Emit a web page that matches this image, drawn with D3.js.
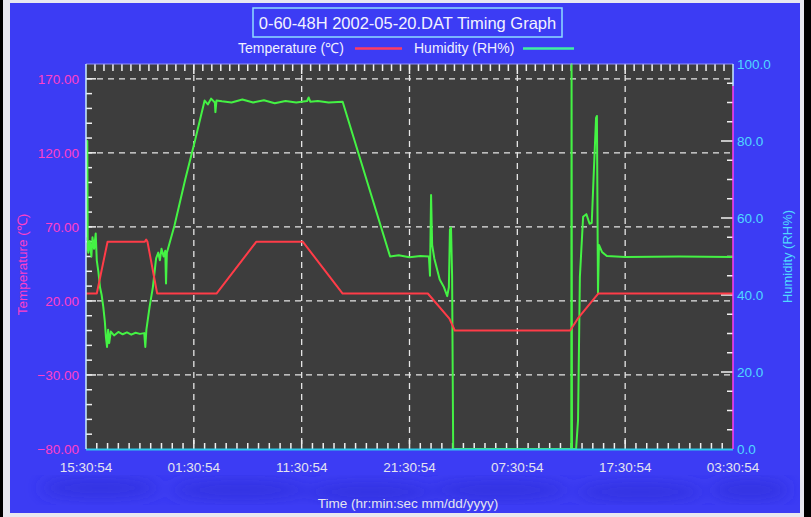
<!DOCTYPE html>
<html>
<head>
<meta charset="utf-8">
<script src="https://cdn.jsdelivr.net/npm/d3@7/dist/d3.min.js"></script>
<style>
  html, body { margin: 0; padding: 0; background: #000; }
  svg { display: block; font-family: "Liberation Sans", Arial, sans-serif; }
</style>
</head>
<body>
<svg id="chart" width="811" height="517"></svg>
<script>
// ---------- DATA ----------
const titleText = "0-60-48H 2002-05-20.DAT Timing Graph";
const tempLabel = "Temperature (\u2103)";
const humLabel = "Humidity (RH%)";
const xTitle = "Time (hr:min:sec mm/dd/yyyy)";

// hours since start (total 60 h)
const timeTickHours = [0, 10, 20, 30, 40, 50, 60];
const timeTickLabels = ["15:30:54", "01:30:54", "11:30:54", "21:30:54", "07:30:54", "17:30:54", "03:30:54"];

const tempTicks = [-80, -30, 20, 70, 120, 170];
const humTicks = [0, 20, 40, 60, 80, 100];

// Temperature series (°C)
const tempTime  = [0, 1.0, 2.0, 5.45, 5.58, 5.7, 6.6, 12.1, 15.8, 20.1, 23.8, 31.7, 33.7, 34.2, 44.9, 45.6, 47.5, 60];
const tempValue = [25, 25, 60, 60, 61.5, 60, 25, 25, 60, 60, 25, 25, 8, 0, 0, 8, 25, 25];

// Humidity series (RH%)
const humTime = [0, 0.12, 0.16, 0.22, 0.35, 0.5, 0.6, 0.75, 0.9, 1.0, 1.15, 1.3, 1.45, 1.6, 1.75, 1.85, 1.95, 2.05, 2.15, 2.3,
  2.6, 3.0, 3.4, 3.8, 4.2, 4.6, 5.0, 5.4, 5.5, 5.6, 5.9, 6.2, 6.5, 6.7, 6.85, 7.0, 7.2, 7.35, 7.42, 7.5,
  8.2, 9.2, 10.1, 11.0, 11.3, 11.6, 11.95, 12.0, 12.1, 12.6, 13.5, 14.5, 15.5, 16.5, 17.5, 18.5, 19.5, 20.5, 20.65, 20.8,
  21.5, 22.5, 23.8, 28.2, 29, 30, 31, 31.8, 31.9, 32.0, 32.1, 32.3, 32.8, 33.2, 33.5, 33.65, 33.75, 33.85, 33.95, 34.05,
  45.0, 45.03, 45.07, 45.45, 45.63, 45.8, 46.1, 46.4, 46.7, 46.9, 47.1, 47.3, 47.38, 47.48, 47.57, 47.85, 48.3, 50, 55, 60];
const humValue = [55, 80, 52, 51, 54, 50, 55, 52, 56, 49, 46, 42, 40, 37, 33, 29, 26.5, 31, 27.5, 30.5,
  29.5, 30.4, 29.8, 30.3, 29.7, 30.2, 29.9, 30.1, 26.5, 31, 37, 42, 49.5, 51, 49, 52, 50, 51.5, 43, 51,
  58, 70, 80, 90.5, 89.5, 91, 90, 87.5, 90.5, 90.3, 90, 90.8, 90, 90.6, 89.8, 90.4, 90, 90.4, 91.3, 90.2,
  90.4, 90, 90.2, 50, 50.3, 49.8, 50.1, 50, 45, 66, 53, 49.5, 44, 42, 39.7, 42, 57, 57.5, 45, 0,
  0, 100, 0, 0, 7.5, 44.7, 60.3, 61, 58.5, 58.7, 72.5, 86, 86.5, 40.5, 53, 51.2, 50.1, 49.9, 50, 49.9];

// ---------- LAYOUT ----------
const svg = d3.select("#chart");
const W = 811, H = 517;
const plot = { left: 86, right: 733, top: 64, bottom: 449 };

const x = d3.scaleLinear().domain([0, 60]).range([plot.left, plot.right]);
const yT = d3.scaleLinear().domain([-80, 180]).range([plot.bottom, plot.top]);
const yH = d3.scaleLinear().domain([0, 100]).range([plot.bottom, plot.top]);

// frame
svg.append("rect").attr("x", 0).attr("y", 0).attr("width", W).attr("height", H).attr("fill", "#000");
svg.append("rect").attr("x", 3).attr("y", 0).attr("width", 801).attr("height", 517).attr("fill", "#e8e8f0");
svg.append("rect").attr("x", 10).attr("y", 3).attr("width", 790).attr("height", 510).attr("fill", "#3c3cf4");

// soft darker blotches near bottom
const defs = svg.append("defs");
defs.append("filter").attr("id", "blur").append("feGaussianBlur").attr("stdDeviation", 8);
const blobs = [[100, 488, 60], [240, 490, 70], [370, 492, 65], [500, 490, 70], [640, 492, 65], [750, 490, 40]];
svg.append("g").attr("filter", "url(#blur)").selectAll("ellipse").data(blobs).join("ellipse")
  .attr("cx", d => d[0]).attr("cy", d => d[1]).attr("rx", d => d[2]).attr("ry", 10)
  .attr("fill", "#2f2fd8").attr("opacity", 0.7);

// plot background
svg.append("rect").attr("x", plot.left).attr("y", plot.top)
  .attr("width", plot.right - plot.left).attr("height", plot.bottom - plot.top)
  .attr("fill", "#3d3d3d");

// grid
const grid = svg.append("g").attr("stroke", "#e6e6e6").attr("stroke-width", 1.3).attr("stroke-dasharray", "6,5");
grid.selectAll(".gv").data(timeTickHours.slice(1, -1)).join("line")
  .attr("x1", d => x(d)).attr("x2", d => x(d)).attr("y1", plot.top).attr("y2", plot.bottom);
grid.selectAll(".gh").data(tempTicks.slice(1)).join("line")
  .attr("x1", plot.left).attr("x2", plot.right).attr("y1", d => yT(d)).attr("y2", d => yT(d));

// minor ticks
const tickG = svg.append("g").attr("stroke", "#f0f0f0").attr("stroke-width", 1.5);
tickG.selectAll(".bt").data(d3.range(1, 60, 1)).join("line")
  .attr("x1", d => x(d)).attr("x2", d => x(d)).attr("y1", plot.bottom).attr("y2", d => plot.bottom - (d % 10 === 0 ? 9 : 6));
tickG.selectAll(".tt").data(d3.range(1, 60 * 12 / 10, 1)).join("line")
  .attr("x1", d => x(d * 10 / 12)).attr("x2", d => x(d * 10 / 12)).attr("y1", plot.top).attr("y2", d => plot.top + (d % 12 === 0 ? 10 : 7));
tickG.selectAll(".lt").data(d3.range(-70, 180, 10)).join("line")
  .attr("x1", plot.left).attr("x2", d => plot.left + ((d + 80) % 50 === 0 ? 10 : 6)).attr("y1", d => yT(d)).attr("y2", d => yT(d));
tickG.selectAll(".rt").data(d3.range(5, 100, 5)).join("line")
  .attr("x1", plot.right).attr("x2", d => plot.right - (d % 20 === 0 ? 12 : 6)).attr("y1", d => yH(d)).attr("y2", d => yH(d));

// lines
svg.append("clipPath").attr("id", "clip").append("rect")
  .attr("x", plot.left).attr("y", plot.top - 1).attr("width", plot.right - plot.left).attr("height", plot.bottom - plot.top + 2);

const tempData = tempTime.map((t, i) => [t, tempValue[i]]);
const humData = humTime.map((t, i) => [t, humValue[i]]);

svg.append("path").datum(humData).attr("clip-path", "url(#clip)")
  .attr("fill", "none").attr("stroke", "#44f244").attr("stroke-width", 2).attr("stroke-linejoin", "round")
  .attr("d", d3.line().x(d => x(d[0])).y(d => yH(d[1])));
svg.append("path").datum(tempData).attr("clip-path", "url(#clip)")
  .attr("fill", "none").attr("stroke", "#ff3c48").attr("stroke-width", 2).attr("stroke-linejoin", "round")
  .attr("d", d3.line().x(d => x(d[0])).y(d => yT(d[1])));

// axis lines
svg.append("line").attr("x1", plot.left).attr("x2", plot.right).attr("y1", plot.top).attr("y2", plot.top).attr("stroke", "#9090ff").attr("stroke-width", 1);
svg.append("line").attr("x1", plot.left).attr("x2", plot.right).attr("y1", plot.bottom + 0.5).attr("y2", plot.bottom + 0.5).attr("stroke", "#30c8ea").attr("stroke-width", 2);
svg.append("line").attr("x1", plot.left).attr("x2", plot.left).attr("y1", plot.top).attr("y2", plot.bottom).attr("stroke", "#c8ecff").attr("stroke-width", 1.5);
svg.append("line").attr("x1", plot.right).attr("x2", plot.right).attr("y1", plot.top + 22).attr("y2", plot.bottom).attr("stroke", "#ff3cf0").attr("stroke-width", 1.5);
svg.append("line").attr("x1", plot.right).attr("x2", plot.right).attr("y1", plot.top).attr("y2", plot.top + 22).attr("stroke", "#c8ecff").attr("stroke-width", 1.5);

// tick labels
const lab = svg.append("g").attr("font-size", 13.5);
lab.selectAll(".lx").data(timeTickHours).join("text")
  .attr("x", d => x(d)).attr("y", 472).attr("text-anchor", "middle").attr("fill", "#e4e4f0")
  .text((d, i) => timeTickLabels[i]);
lab.selectAll(".ly").data(tempTicks).join("text")
  .attr("x", 79).attr("y", d => yT(d) + 5).attr("text-anchor", "end").attr("fill", "#ff40c8")
  .attr("font-size", 13.5)
  .text(d => d3.format(".2f")(d));
lab.selectAll(".ry").data(humTicks).join("text")
  .attr("x", 737).attr("y", d => yH(d) + 5).attr("text-anchor", "start").attr("fill", "#50d8ff")
  .attr("font-size", 13.5)
  .text(d => d3.format(".1f")(d));

// axis titles
svg.append("text").attr("transform", `translate(27,${(plot.top + plot.bottom) / 2 + 8}) rotate(-90)`)
  .attr("text-anchor", "middle").attr("font-size", 13.5).attr("fill", "#ff40c8").text(tempLabel);
svg.append("text").attr("transform", `translate(792,${(plot.top + plot.bottom) / 2}) rotate(-90)`)
  .attr("text-anchor", "middle").attr("font-size", 13).attr("fill", "#50d8ff").text(humLabel);
svg.append("text").attr("x", 408).attr("y", 508).attr("text-anchor", "middle").attr("font-size", 13.5)
  .attr("fill", "#e4e4f0").text(xTitle);

// title
svg.append("rect").attr("x", 253).attr("y", 8).attr("width", 309).attr("height", 29)
  .attr("fill", "none").attr("stroke", "#8fdcff").attr("stroke-width", 1.5);
svg.append("text").attr("x", 407.5).attr("y", 28.5).attr("text-anchor", "middle").attr("font-size", 16.5)
  .attr("fill", "#f2f2ff").text(titleText);

// legend
const leg = svg.append("g").attr("font-size", 14);
leg.append("text").attr("x", 238).attr("y", 53).attr("fill", "#f0f0ff").text(tempLabel);
leg.append("line").attr("x1", 355).attr("x2", 402).attr("y1", 48.5).attr("y2", 48.5).attr("stroke", "#ff3c60").attr("stroke-width", 2.5);
leg.append("text").attr("x", 414).attr("y", 53).attr("fill", "#f0f0ff").text(humLabel);
leg.append("line").attr("x1", 523).attr("x2", 574).attr("y1", 48.5).attr("y2", 48.5).attr("stroke", "#40f0a0").attr("stroke-width", 2.5);
</script>
</body>
</html>
